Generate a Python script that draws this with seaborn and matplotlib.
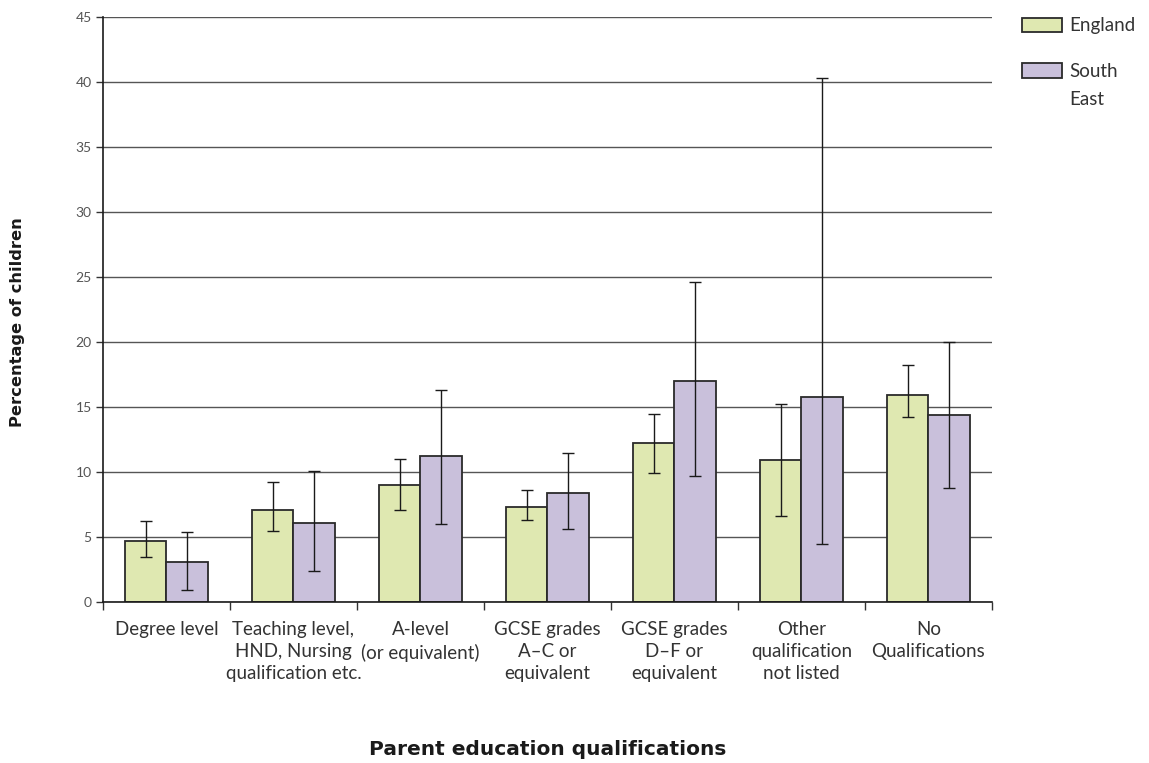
import matplotlib.pyplot as plt
import seaborn as sns
import pandas as pd
from matplotlib.patches import Patch

categories = ['Degree level', 'Teaching level,\nHND, Nursing\nqualification etc.', 'A-level\n(or equivalent)',
              'GCSE grades\nA\u2013C or\nequivalent', 'GCSE grades\nD\u2013F or\nequivalent',
              'Other\nqualification\nnot listed', 'No\nQualifications']
england = [4.7, 7.1, 9.0, 7.3, 12.2, 10.9, 15.9]
england_lo = [3.5, 5.5, 7.1, 6.3, 9.9, 6.6, 14.2]
england_hi = [6.2, 9.2, 11.0, 8.6, 14.5, 15.2, 18.2]
south_east = [3.1, 6.1, 11.2, 8.4, 17.0, 15.8, 14.4]
south_east_lo = [0.9, 2.4, 6.0, 5.6, 9.7, 4.5, 8.8]
south_east_hi = [5.4, 10.1, 16.3, 11.5, 24.6, 40.3, 20.0]

regions = ['England', 'South East']
colors = ['#dfe8b1', '#c9c0db']

df = pd.DataFrame({
    'qualification': categories * 2,
    'region': ['England'] * 7 + ['South East'] * 7,
    'pct': england + south_east,
})

sns.set_style('white')
plt.rcParams['font.family'] = ['Lato', 'DejaVu Sans']
plt.rcParams['text.color'] = '#333333'
plt.rcParams['xtick.color'] = '#333333'
plt.rcParams['ytick.color'] = '#333333'

fig = plt.figure(figsize=(11.49, 7.63), dpi=100)
ax = fig.add_axes([0.0896, 0.211, 0.7737, 0.7667])

sns.barplot(data=df, x='qualification', y='pct', hue='region', order=categories, hue_order=regions,
            palette=colors, width=0.655, errorbar=None, edgecolor='#2a2a2a', linewidth=1.3,
            saturation=1, ax=ax, zorder=2)

lows = [england_lo, south_east_lo]
highs = [england_hi, south_east_hi]
vals = [england, south_east]
for cont, v, lo, hi in zip(ax.containers, vals, lows, highs):
    xs = [b.get_x() + b.get_width() / 2 for b in cont]
    yerr = [[a - b for a, b in zip(v, lo)], [b - a for a, b in zip(v, hi)]]
    ax.errorbar(xs, v, yerr=yerr, fmt='none', ecolor='#1a1a1a', elinewidth=1, capsize=4, capthick=1, zorder=3)

# legend: second label wraps onto a second line below its first word
ax.get_legend().remove()
handles = [Patch(facecolor=c, edgecolor='#2a2a2a', linewidth=1.3) for c in colors]
leg = ax.legend(handles, ['England', 'South'], loc='upper left', bbox_to_anchor=(1.025, 1.012),
                frameon=False, fontsize=13.5, handlelength=2.15,
                handleheight=0.85, labelspacing=1.52, handletextpad=0.4, borderaxespad=0)

ax.set_ylim(0, 45)
ax.set_xlim(-0.5, 6.5)
ax.set_yticks(range(0, 46, 5))
ax.yaxis.grid(True, color='#555555', linewidth=1)
ax.set_axisbelow(True)
ax.tick_params(axis='y', left=True, direction='out', length=5, width=1, labelsize=10, pad=3,
               labelcolor='#555555')
ax.tick_params(axis='x', which='major', length=0, labelsize=13.5, pad=14)
ax.set_xticks([i - 0.5 for i in range(8)], minor=True)
ax.tick_params(axis='x', which='minor', bottom=True, direction='out', length=6, width=1)
for lbl in ax.get_xticklabels():
    lbl.set_linespacing(1.35)

for s in ['top', 'right']:
    ax.spines[s].set_visible(False)
for s in ['left', 'bottom']:
    ax.spines[s].set_color('#1a1a1a')
    ax.spines[s].set_linewidth(1.2)

ax.set_xlabel('Parent education qualifications', fontsize=14.5, fontweight='bold', color='#1a1a1a',
              family='DejaVu Sans')
ax.set_ylabel('Percentage of children', fontsize=11.7, fontweight='bold', color='#1a1a1a',
              family='DejaVu Sans')
ax.xaxis.set_label_coords(0.5, -0.236)
ax.yaxis.set_label_coords(-0.088, 0.479)

fig.canvas.draw()
south = leg.get_texts()[1]
bb = south.get_window_extent()
x0, y0 = fig.transFigure.inverted().transform((bb.x0, bb.y0 - 28))
fig.text(x0, y0, 'East', fontsize=13.5, ha='left', va='bottom', color='#333333')

fig.savefig('out.png', dpi=100)
